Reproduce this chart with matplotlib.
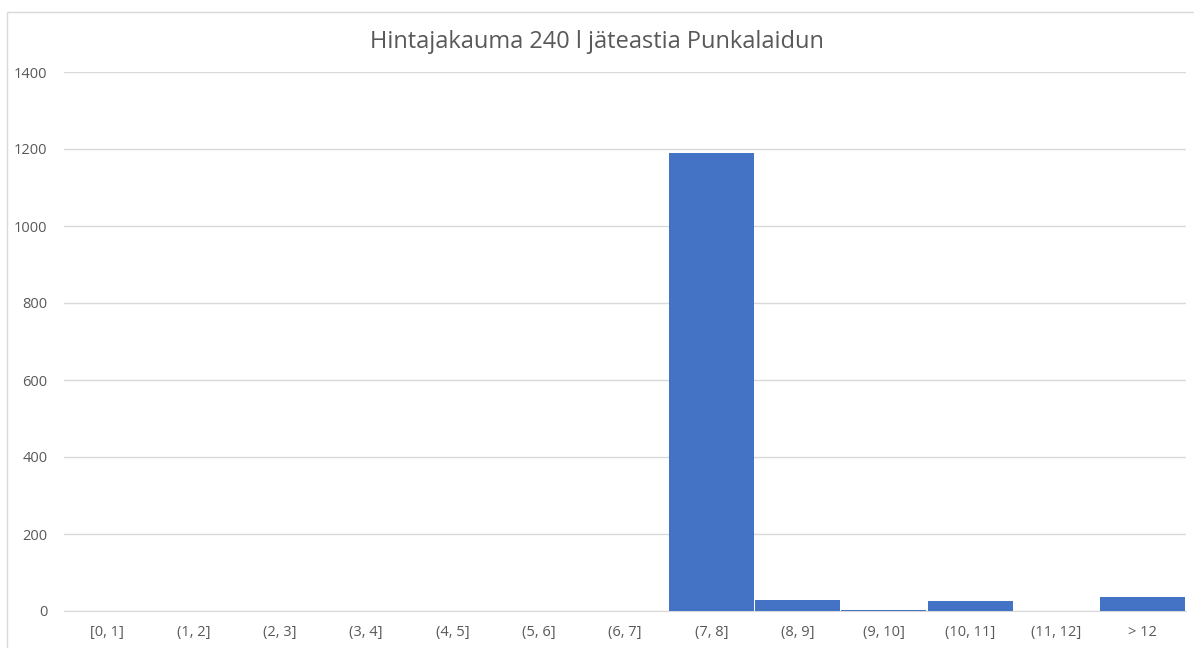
import matplotlib.pyplot as plt
from matplotlib.patches import Rectangle
import numpy as np

plt.rcParams['font.family'] = ['Open Sans', 'DejaVu Sans']

luokat = ['[0, 1]', '(1, 2]', '(2, 3]', '(3, 4]', '(4, 5]', '(5, 6]', '(6, 7]',
          '(7, 8]', '(8, 9]', '(9, 10]', '(10, 11]', '(11, 12]', '> 12']
maarat = [0, 0, 0, 0, 0, 0, 0, 1190, 28, 3, 26, 0, 36]
y_ticks = [0, 200, 400, 600, 800, 1000, 1200, 1400]

fig = plt.figure(figsize=(11.94, 6.48), dpi=100)
ax = fig.add_axes([64 / 1194, 37 / 648, 1122 / 1194, 539 / 648])

# kehys kaavion ympärillä
fig.patches.append(Rectangle((7 / 1194, -0.05), 1.2, (648 - 12) / 648 + 0.05,
                             transform=fig.transFigure, fill=False,
                             edgecolor='#d9d9d9', linewidth=1))

x = np.arange(len(luokat))
ax.bar(x, maarat, width=0.985, color='#4472c4', zorder=3)

ax.set_xlim(-0.5, len(luokat) - 0.5)
ax.set_ylim(0, 1400)
ax.set_yticks(y_ticks)
ax.set_xticks(x)
ax.set_xticklabels(luokat)
ax.grid(axis='y', color='#d9d9d9', linewidth=1, zorder=0)
for s in ['top', 'right', 'left']:
    ax.spines[s].set_visible(False)
ax.spines['bottom'].set_color('#d9d9d9')
ax.tick_params(length=0, colors='#595959', labelsize=10.5)
ax.tick_params(axis='x', pad=10)
ax.tick_params(axis='y', pad=12)

fig.text(0.5, 1 - 42 / 648, 'Hintajakauma 240 l jäteastia Punkalaidun',
         ha='center', va='center', fontsize=17, color='#595959')

fig.savefig('out.png', dpi=100)
